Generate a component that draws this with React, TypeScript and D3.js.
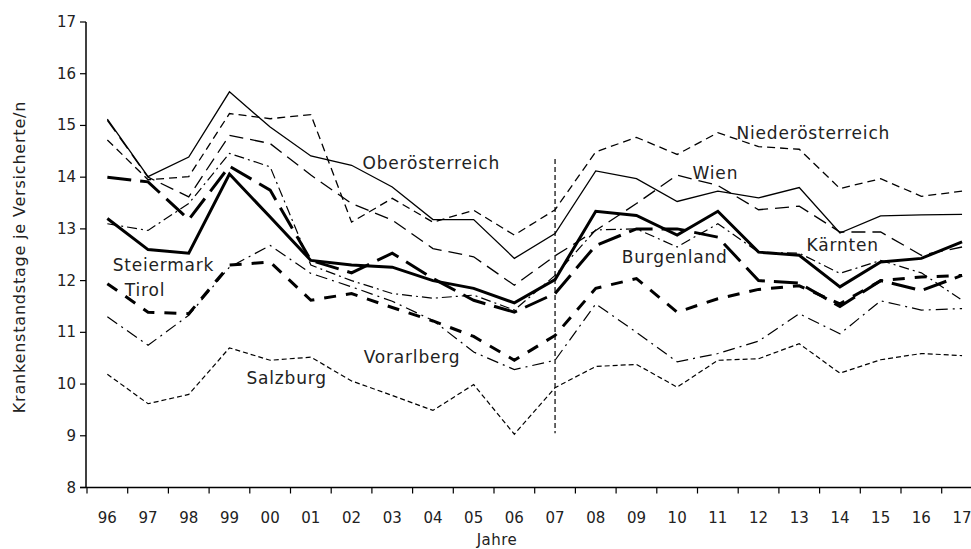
import * as d3 from "d3";

const years = ["96", "97", "98", "99", "00", "01", "02", "03", "04", "05", "06", "07", "08", "09", "10", "11", "12", "13", "14", "15", "16", "17"];
const yTicks = [8, 9, 10, 11, 12, 13, 14, 15, 16, 17];

// Krankenstandstage je Versicherte/n
const oberoesterreich = [15.12, 14.01, 14.39, 15.65, 14.97, 14.41, 14.23, 13.81, 13.18, 13.18, 12.43, 12.91, 14.12, 13.97, 13.53, 13.73, 13.6, 13.8, 12.92, 13.25, 13.27, 13.28];
const niederoesterreich = [14.72, 13.95, 14.01, 15.23, 15.13, 15.21, 13.13, 13.59, 13.13, 13.36, 12.88, 13.37, 14.49, 14.77, 14.44, 14.86, 14.59, 14.54, 13.78, 13.97, 13.63, 13.73];
const wien = [15.1, 14.0, 13.62, 14.81, 14.65, 14.04, 13.49, 13.17, 12.62, 12.46, 11.91, 12.48, 12.97, 13.49, 14.04, 13.84, 13.37, 13.44, 12.94, 12.94, 12.49, 12.65];
const kaernten = [13.1, 12.97, 13.49, 14.46, 14.2, 12.3, 12.0, 11.75, 11.66, 11.72, 11.43, 12.1, 12.98, 13.0, 12.65, 13.1, 12.55, 12.53, 12.14, 12.39, 12.15, 11.62];
const steiermark = [13.2, 12.6, 12.53, 14.06, 13.23, 12.39, 12.3, 12.26, 12.0, 11.85, 11.57, 12.02, 13.34, 13.26, 12.88, 13.34, 12.55, 12.49, 11.88, 12.36, 12.43, 12.75];
const burgenland = [14.0, 13.91, 13.18, 14.21, 13.75, 12.39, 12.15, 12.53, 12.04, 11.62, 11.39, 11.75, 12.68, 13.0, 13.0, 12.84, 12.0, 11.95, 11.5, 12.0, 11.81, 12.1];
const tirol = [11.94, 11.39, 11.36, 12.3, 12.36, 11.62, 11.75, 11.48, 11.22, 10.92, 10.46, 10.94, 11.85, 12.04, 11.39, 11.65, 11.83, 11.9, 11.55, 12.0, 12.07, 12.1];
const vorarlberg = [11.3, 10.75, 11.33, 12.26, 12.68, 12.14, 11.88, 11.6, 11.23, 10.62, 10.28, 10.46, 11.55, 11.0, 10.43, 10.59, 10.83, 11.36, 10.97, 11.61, 11.43, 11.46];
const salzburg = [10.19, 9.62, 9.8, 10.7, 10.46, 10.52, 10.06, 9.78, 9.49, 9.99, 9.03, 9.93, 10.34, 10.38, 9.94, 10.46, 10.49, 10.78, 10.21, 10.47, 10.59, 10.55];

// break marker at 07
const breakYear = "07";
const breakRange = [9.05, 14.35];

const series = [
  { name: "Oberösterreich", values: oberoesterreich, width: 1.3, dash: null },
  { name: "Niederösterreich", values: niederoesterreich, width: 1.3, dash: "8,5" },
  { name: "Wien", values: wien, width: 1.3, dash: "14,7" },
  { name: "Kärnten", values: kaernten, width: 1.2, dash: "10,4,2,4" },
  { name: "Vorarlberg", values: vorarlberg, width: 1.2, dash: "12,5,2,5" },
  { name: "Salzburg", values: salzburg, width: 1.2, dash: "5,3" },
  { name: "Steiermark", values: steiermark, width: 3, dash: null },
  { name: "Burgenland", values: burgenland, width: 3, dash: "24,9" },
  { name: "Tirol", values: tirol, width: 3, dash: "12,10" },
];

// label anchors in (year index, value) space
const labels = [
  { text: "Oberösterreich", xi: 6.27, v: 14.28 },
  { text: "Niederösterreich", xi: 15.46, v: 14.86 },
  { text: "Wien", xi: 14.38, v: 14.09 },
  { text: "Kärnten", xi: 17.18, v: 12.69 },
  { text: "Burgenland", xi: 12.64, v: 12.46 },
  { text: "Steiermark", xi: 0.13, v: 12.31 },
  { text: "Tirol", xi: 0.43, v: 11.82 },
  { text: "Vorarlberg", xi: 6.3, v: 10.53 },
  { text: "Salzburg", xi: 3.42, v: 10.12 },
];

const width = 971;
const height = 549;
const left = 87;
const step = 40.7;
const font = "'DejaVu Sans', sans-serif";
const ink = "#222";

export default function App() {
  const x = d3.scaleBand<string>().domain(years).range([left, left + step * years.length]).padding(0);
  const y = d3.scaleLinear().domain([8, 17]).range([487.5, 22]);
  const cx = (i: number) => x(years[0])! + x.bandwidth() * (i + 0.5);

  const line = d3.line<number>()
    .x((d, i) => cx(i))
    .y(d => y(d));

  const bx = x(breakYear)! + x.bandwidth() / 2;

  return (
    <div style={{ position: "absolute", left: 0, top: 0 }}>
      <svg width={width} height={height} style={{ display: "block", background: "#fff" }} fontFamily={font}>
        {/* y axis */}
        <line x1={left - 1} x2={left - 1} y1={y(17)} y2={y(8)} stroke="#000" strokeWidth={1.5} />
        {yTicks.map(t => (
          <g key={t}>
            <line x1={left - 7} x2={left - 1} y1={y(t)} y2={y(t)} stroke="#000" strokeWidth={1.2} />
            <text x={left - 11} y={y(t)} textAnchor="end" dominantBaseline="central" fontSize={15} fill={ink}>{t}</text>
          </g>
        ))}
        <text transform={`translate(19,${257}) rotate(-90)`} textAnchor="middle" dominantBaseline="central"
          fontSize={16} letterSpacing={0.8} fill={ink}>
          Krankenstandstage je Versicherte/n
        </text>

        {/* x axis */}
        <line x1={left - 7} x2={left + step * years.length} y1={y(8)} y2={y(8)} stroke="#000" strokeWidth={1.5} />
        {years.map(yr => (
          <g key={yr}>
            <line x1={x(yr)!} x2={x(yr)!} y1={y(8)} y2={y(8) + 6} stroke="#000" strokeWidth={1.2} />
            <text x={x(yr)! + x.bandwidth() / 2} y={518} textAnchor="middle" dominantBaseline="central" fontSize={15} fill={ink}>{yr}</text>
          </g>
        ))}
        <text x={497} y={540} textAnchor="middle" dominantBaseline="central" fontSize={15} letterSpacing={0.5} fill={ink}>Jahre</text>

        {/* break line */}
        <line x1={bx} x2={bx} y1={y(breakRange[1])} y2={y(breakRange[0])} stroke="#000" strokeWidth={1.2} strokeDasharray="5,3" />

        {/* series */}
        {series.map(s => (
          <path key={s.name} d={line(s.values) || ""} fill="none" stroke="#000"
            strokeWidth={s.width} strokeDasharray={s.dash || undefined} strokeLinejoin="miter" />
        ))}

        {/* labels */}
        {labels.map(l => (
          <text key={l.text} x={cx(l.xi)} y={y(l.v)} dominantBaseline="central"
            fontSize={17} letterSpacing={0.8} fill={ink}>{l.text}</text>
        ))}
      </svg>
    </div>
  );
}
